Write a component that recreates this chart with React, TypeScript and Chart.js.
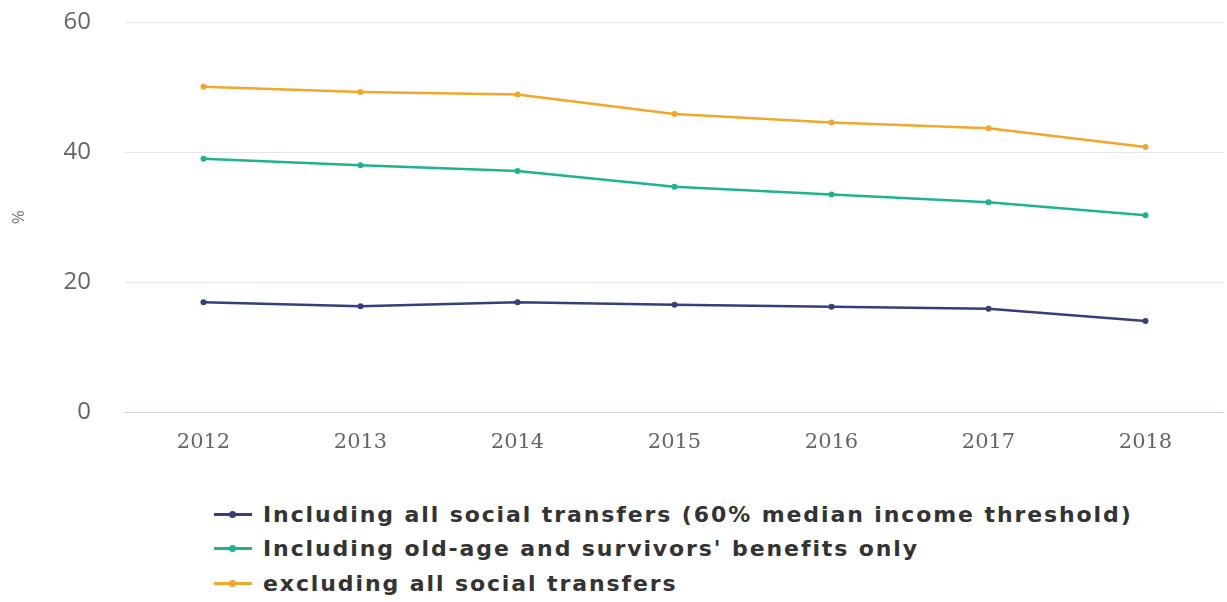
import React, { useEffect, useRef } from "react";
import { Chart, registerables } from "chart.js";

Chart.register(...registerables);

const years = ["2012", "2013", "2014", "2015", "2016", "2017", "2018"];
const allTransfers = [16.9, 16.3, 16.9, 16.5, 16.2, 15.9, 14.0];
const oldAgeOnly = [39.0, 38.0, 37.1, 34.7, 33.5, 32.3, 30.3];
const excludingAll = [50.1, 49.3, 48.9, 45.9, 44.6, 43.7, 40.8];

const seriesNames = [
  "Including all social transfers (60% median income threshold)",
  "Including old-age and survivors' benefits only",
  "excluding all social transfers",
];
const seriesColors = ["#34407a", "#1db38f", "#f2a62a"];

export default function App() {
  const canvasRef = useRef<HTMLCanvasElement | null>(null);

  useEffect(() => {
    const canvas = canvasRef.current;
    if (!canvas) return;
    const seriesData = [allTransfers, oldAgeOnly, excludingAll];
    const chart = new Chart(canvas, {
      type: "line",
      data: {
        labels: years,
        datasets: seriesData.map((d, i) => ({
          label: seriesNames[i],
          data: d,
          borderColor: seriesColors[i],
          backgroundColor: seriesColors[i],
          borderWidth: 2.5,
          pointRadius: 3,
          pointHoverRadius: 3,
          pointBorderWidth: 0,
          tension: 0,
          fill: false,
        })),
      },
      options: {
        animation: false,
        responsive: false,
        maintainAspectRatio: false,
        layout: { padding: { top: 0, right: 0, left: 0, bottom: 0 } },
        plugins: {
          legend: { display: false },
          tooltip: { enabled: false },
        },
        scales: {
          x: {
            offset: true,
            grid: { display: false, drawTicks: false },
            border: { display: false },
            ticks: {
              color: "#666",
              padding: 18,
              font: { family: "DejaVu Serif", size: 21 },
            },
            afterFit: (scale: any) => {
              scale.height = 53;
            },
          },
          y: {
            min: 0,
            max: 60,
            ticks: {
              stepSize: 20,
              color: "#666",
              padding: 34,
              font: { family: "Open Sans", size: 24 },
            },
            grid: {
              drawTicks: false,
              lineWidth: 1,
              color: (ctx: any) => (ctx.tick && ctx.tick.value === 0 ? "#ccd6eb" : "#e6e6e6"),
            },
            border: { display: false },
            title: {
              display: true,
              text: "%",
              color: "#777",
              font: { family: "Open Sans", size: 17 },
              padding: { top: 9, bottom: 0 },
            },
            afterFit: (scale: any) => {
              scale.width = 125;
            },
          },
        },
      },
    });
    return () => chart.destroy();
  }, []);

  return (
    <div
      style={{
        position: "absolute",
        left: 0,
        top: 0,
        width: 1227,
        height: 602,
        background: "#fff",
        overflow: "hidden",
      }}
    >
      <canvas
        ref={canvasRef}
        width={1227}
        height={491}
        style={{ position: "absolute", left: 0, top: -26, width: 1227, height: 491 }}
      />
      <div
        style={{
          position: "absolute",
          left: 214,
          top: 497,
          display: "flex",
          flexDirection: "column",
        }}
      >
        {seriesNames.map((name, i) => (
          <div
            key={name}
            style={{ display: "flex", alignItems: "center", height: 34.5 }}
          >
            <span
              style={{
                position: "relative",
                display: "inline-block",
                width: 38,
                height: 3,
                background: seriesColors[i],
                marginRight: 11,
              }}
            >
              <span
                style={{
                  position: "absolute",
                  left: 15,
                  top: -2,
                  width: 7,
                  height: 7,
                  borderRadius: "50%",
                  background: seriesColors[i],
                }}
              />
            </span>
            <span
              style={{
                fontFamily: "DejaVu Sans",
                fontWeight: "bold",
                fontSize: 22,
                letterSpacing: 1.9,
                color: "#333",
                whiteSpace: "nowrap",
              }}
            >
              {name}
            </span>
          </div>
        ))}
      </div>
    </div>
  );
}
